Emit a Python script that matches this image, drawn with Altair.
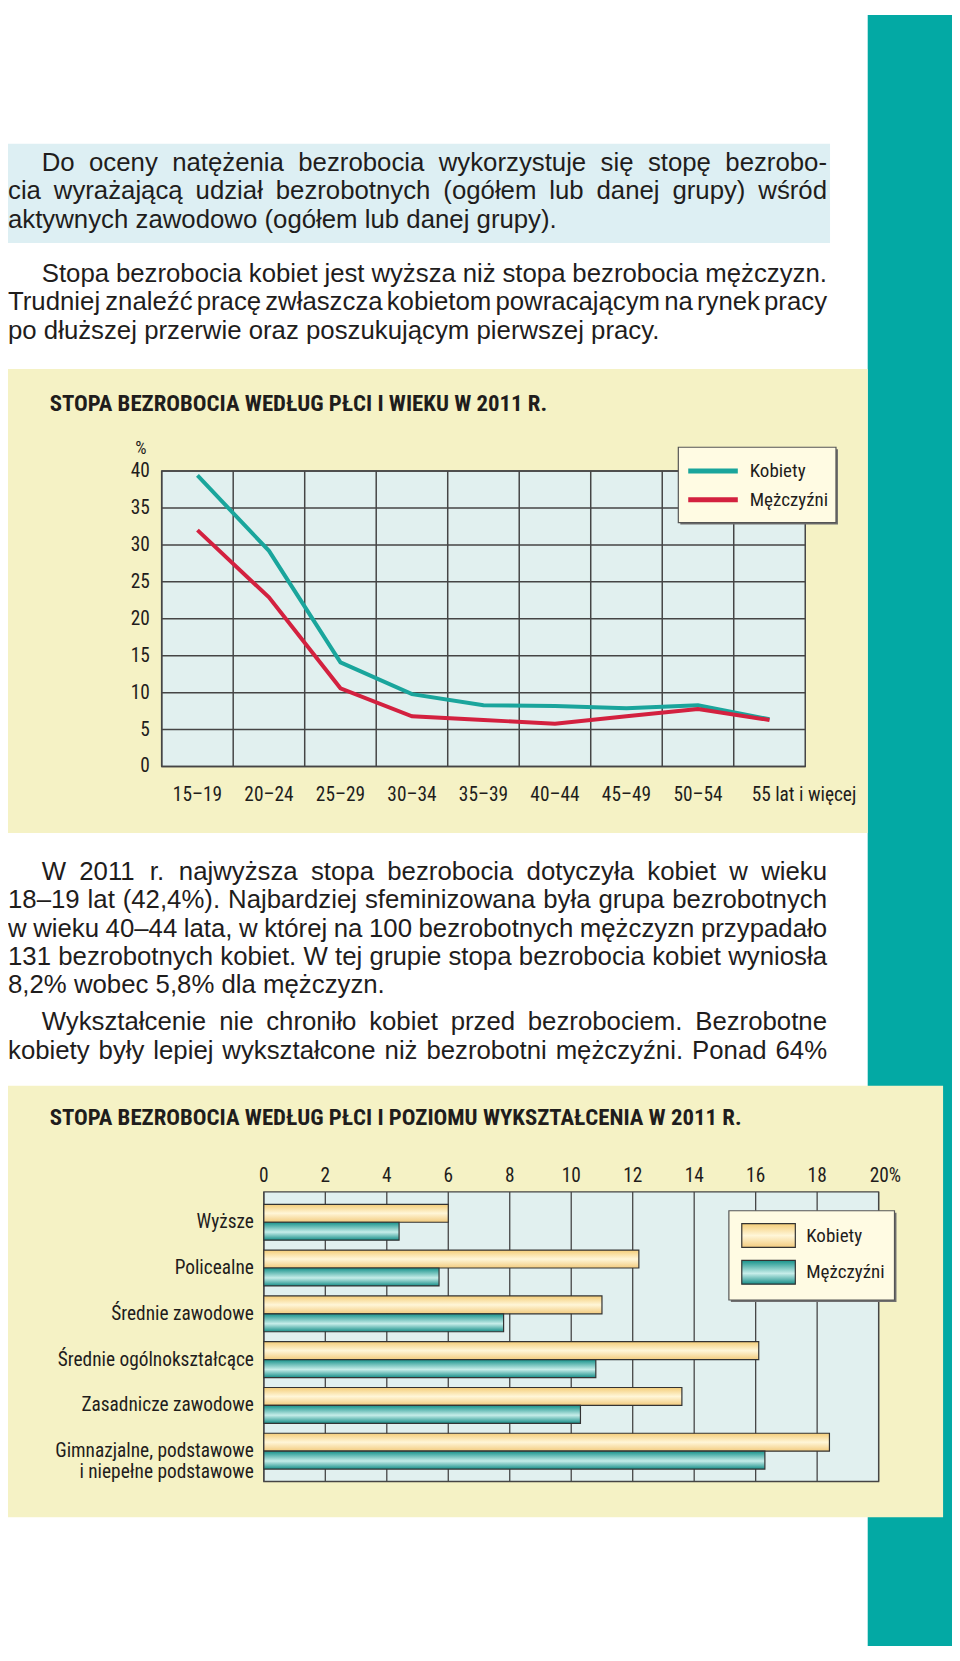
import altair as alt
import pandas as pd

# ------------------------------------------------------------------ data
ages = ["15–19", "20–24", "25–29", "30–34", "35–39", "40–44", "45–49", "50–54", "55 lat i więcej"]
women_by_age = [39.4, 29.2, 14.1, 9.8, 8.3, 8.2, 7.9, 8.3, 6.4]
men_by_age = [32.0, 22.9, 10.6, 6.8, 6.3, 5.8, 6.8, 7.8, 6.3]
series = ["Kobiety", "Mężczyźni"]
age_ticks = [0, 5, 10, 15, 20, 25, 30, 35, 40]

education = ["Wyższe", "Policealne", "Średnie zawodowe", "Średnie ogólnokształcące",
             "Zasadnicze zawodowe", "Gimnazjalne, podstawowe i niepełne podstawowe"]
education_labels = ["Wyższe", "Policealne", "Średnie zawodowe", "Średnie ogólnokształcące",
                    "Zasadnicze zawodowe", "Gimnazjalne, podstawowe\ni niepełne podstawowe"]
women_by_edu = [6.0, 12.2, 11.0, 16.1, 13.6, 18.4]
men_by_edu = [4.4, 5.7, 7.8, 10.8, 10.3, 16.3]
edu_ticks = [0, 2, 4, 6, 8, 10, 12, 14, 16, 18, 20]
edu_tick_labels = ["0", "2", "4", "6", "8", "10", "12", "14", "16", "18", "20%"]

title_age = "STOPA BEZROBOCIA WEDŁUG PŁCI I WIEKU W 2011 R."
title_edu = "STOPA BEZROBOCIA WEDŁUG PŁCI I POZIOMU WYKSZTAŁCENIA W 2011 R."

para_1 = [
    "Do oceny natężenia bezrobocia wykorzystuje się stopę bezrobo-",
    "cia wyrażającą udział bezrobotnych (ogółem lub danej grupy) wśród",
    "aktywnych zawodowo (ogółem lub danej grupy).",
]
para_2 = [
    "Stopa bezrobocia kobiet jest wyższa niż stopa bezrobocia mężczyzn.",
    "Trudniej znaleźć pracę zwłaszcza kobietom powracającym na rynek pracy",
    "po dłuższej przerwie oraz poszukującym pierwszej pracy.",
]
para_3 = [
    "W 2011 r. najwyższa stopa bezrobocia dotyczyła kobiet w wieku",
    "18–19 lat (42,4%). Najbardziej sfeminizowana była grupa bezrobotnych",
    "w wieku 40–44 lata, w której na 100 bezrobotnych mężczyzn przypadało",
    "131 bezrobotnych kobiet. W tej grupie stopa bezrobocia kobiet wyniosła",
    "8,2% wobec 5,8% dla mężczyzn.",
]
para_4 = [
    "Wykształcenie nie chroniło kobiet przed bezrobociem. Bezrobotne",
    "kobiety były lepiej wykształcone niż bezrobotni mężczyźni. Ponad 64%",
]

# ------------------------------------------------------------------ style
W, H = 952, 1645
BODY_FONT = "Liberation Sans, Arial, Helvetica, sans-serif"
COND_FONT = "Roboto Condensed, Noto Sans Condensed, DejaVu Sans Condensed, sans-serif"
TXT = "#1f1d1c"
TEAL_STRIP = "#03a9a4"
TEXT_BG = "#ddeff3"
PANEL = "#f5f2c5"
PLOT_BG = "#e1f0ef"
GRID = "#454545"
LEG_BG = "#fffbe3"
LINE_COLORS = alt.Scale(domain=series, range=["#1aa59c", "#d3213f"])
BAR_STROKE = "#333333"
GRAD_K = {"gradient": "linear", "x1": 0, "y1": 0, "x2": 0, "y2": 1,
          "stops": [{"offset": 0, "color": "#f4cd78"}, {"offset": 0.5, "color": "#fff6d8"},
                    {"offset": 1, "color": "#f2cb7e"}]}
GRAD_M = {"gradient": "linear", "x1": 0, "y1": 0, "x2": 0, "y2": 1,
          "stops": [{"offset": 0, "color": "#17928b"}, {"offset": 0.55, "color": "#c6ede9"},
                    {"offset": 1, "color": "#168e88"}]}
LABEL_SIZE = 19.5
LEGEND_SIZE = 19.2
TITLE_SIZE = 23

ONE = pd.DataFrame({"k": [0]})


def box(x1, x2, y1, y2, **style):
    return alt.Chart(ONE).mark_rect(**style).encode(
        x=alt.value(x1), x2=alt.value(x2), y=alt.value(y1), y2=alt.value(y2))


# ------------------------------------------------------------------ justified body text
_ARIAL = {}
for chars, w in [("ijlł", 222), ("ft .,I", 278), ("r()-", 333), ("ckszvxyćśźżJ", 500),
                 ("abdeghnopquąęńó0123456789–LŁ", 556), ("TFZŹŻ", 611), ("ABEKPSVXYŚĄĘ", 667),
                 ("wCDHNRUĆŃ", 722), ("GOQÓ", 778), ("mM", 833), ("%", 889), ("W", 944)]:
    for ch in chars:
        _ARIAL[ch] = w

BODY_SIZE = 26
LINE_H = 28.7
TEXT_LEFT, TEXT_INDENT, TEXT_RIGHT = 0, 34, 826


def measure(s):
    return sum(_ARIAL.get(ch, 556) for ch in s) * BODY_SIZE / 1000.0


def paragraph(lines, first_baseline, justify_last=False):
    rows = []
    for i, line in enumerate(lines):
        left = TEXT_INDENT if i == 0 else TEXT_LEFT
        words = line.split(" ")
        widths = [measure(w) for w in words]
        is_last = i == len(lines) - 1 and not justify_last
        if is_last or len(words) < 2:
            gap = measure(" ")
        else:
            gap = (TEXT_RIGHT - left - sum(widths)) / (len(words) - 1)
        x = left
        for wd, ww in zip(words, widths):
            rows.append({"w": wd, "x": x, "y": first_baseline + i * LINE_H})
            x += ww + gap
    return alt.Chart(pd.DataFrame(rows)).mark_text(
        align="left", baseline="alphabetic", font=BODY_FONT, fontSize=BODY_SIZE, color=TXT
    ).encode(x=alt.X("x:Q", scale=None, axis=None), y=alt.Y("y:Q", scale=None, axis=None), text="w:N")


# ------------------------------------------------------------------ line chart (age)
PX0, PX1, PY0, PY1 = 155, 804, 460, 758
X_AGE = alt.Scale(type="band", domain=ages, range=[PX0, PX1], paddingInner=0, paddingOuter=0)
Y_AGE = alt.Scale(domain=[0, 40], range=[PY1, PY0], nice=False, zero=False)

age_df = pd.DataFrame({
    "age": ages + ages,
    "series": [series[0]] * len(ages) + [series[1]] * len(ages),
    "rate": women_by_age + men_by_age,
})
age_lab_df = pd.DataFrame({"age": ages, "last": [0] * (len(ages) - 1) + [1]})

line_bg = box(PX0, PX1, PY0, PY1, fill=PLOT_BG)
line_hgrid = alt.Chart(pd.DataFrame({"v": age_ticks})).mark_rule(color=GRID, strokeWidth=1.5).encode(
    y=alt.Y("v:Q", scale=Y_AGE, axis=None), x=alt.value(PX0), x2=alt.value(PX1))
line_vgrid = alt.Chart(pd.DataFrame({"age": ages})).mark_rule(color=GRID, strokeWidth=1.5).encode(
    x=alt.X("age:N", scale=X_AGE, axis=None, bandPosition=0), y=alt.value(PY0), y2=alt.value(PY1))
line_border = box(PX0, PX1, PY0, PY1, filled=False, stroke=GRID, strokeWidth=1.5)
line_marks = alt.Chart(age_df).mark_line(strokeWidth=4).encode(
    x=alt.X("age:N", scale=X_AGE, axis=None),
    y=alt.Y("rate:Q", scale=Y_AGE, axis=None),
    color=alt.Color("series:N", scale=LINE_COLORS, legend=None),
)
line_ylabels = alt.Chart(pd.DataFrame({"v": age_ticks})).mark_text(
    align="right", baseline="middle", font=COND_FONT, fontSize=LABEL_SIZE, color=TXT
).encode(y=alt.Y("v:Q", scale=Y_AGE, axis=None), x=alt.value(143), text="v:Q")
line_unit = alt.Chart(ONE).mark_text(
    text="%", align="center", baseline="middle", font=COND_FONT, fontSize=18, color=TXT
).encode(x=alt.value(134), y=alt.value(438))
line_xlabels = alt.Chart(age_lab_df).transform_filter(alt.datum.last == 0).mark_text(
    align="center", baseline="middle", font=COND_FONT, fontSize=LABEL_SIZE, color=TXT
).encode(x=alt.X("age:N", scale=X_AGE, axis=None), y=alt.value(787), text="age:N")
line_xlabel_last = alt.Chart(age_lab_df).transform_filter(alt.datum.last == 1).mark_text(
    align="left", dx=-18, baseline="middle", font=COND_FONT, fontSize=LABEL_SIZE, color=TXT
).encode(x=alt.X("age:N", scale=X_AGE, axis=None), y=alt.value(787), text="age:N")
line_title = alt.Chart(ONE).mark_text(
    text=title_age, align="left", baseline="middle", font=COND_FONT, fontWeight="bold",
    fontSize=TITLE_SIZE, color=TXT
).encode(x=alt.value(42), y=alt.value(392))

line_chart = alt.layer(line_bg, line_hgrid, line_vgrid, line_border, line_marks,
                       line_ylabels, line_unit, line_xlabels, line_xlabel_last, line_title)

leg_df = pd.DataFrame({"series": series})
LEG_Y = alt.Scale(type="point", domain=series, range=[460, 489], padding=0)
line_legend = alt.layer(
    box(678, 837, 438, 514, fill="#707070"),
    box(676, 835, 436, 512, fill=LEG_BG, stroke="#555555", strokeWidth=1.2),
    alt.Chart(leg_df).mark_rule(strokeWidth=5).encode(
        x=alt.value(686), x2=alt.value(736),
        y=alt.Y("series:N", scale=LEG_Y, axis=None),
        color=alt.Color("series:N", scale=LINE_COLORS, legend=None)),
    alt.Chart(leg_df).mark_text(align="left", baseline="middle", font=COND_FONT, fontSize=LEGEND_SIZE,
                                color=TXT).encode(
        x=alt.value(748), y=alt.Y("series:N", scale=LEG_Y, axis=None), text="series:N"),
)

# ------------------------------------------------------------------ bar chart (education)
BX0, BX1, BY0, BY1 = 258, 878, 1187, 1479
X_EDU = alt.Scale(domain=[0, 20], range=[BX0, BX1], nice=False, zero=False)
Y_EDU = alt.Scale(type="band", domain=education, range=[BY0, BY1], paddingInner=0.217, paddingOuter=0.27)
OFF = alt.Scale(type="band", domain=series, paddingInner=0, paddingOuter=0)

edu_df = pd.DataFrame({
    "edu": education + education,
    "series": [series[0]] * len(education) + [series[1]] * len(education),
    "rate": women_by_edu + men_by_edu,
})
tick_df = pd.DataFrame({"v": edu_ticks, "t": edu_tick_labels})


def bars(name, grad):
    return alt.Chart(edu_df).transform_filter(alt.datum.series == name).mark_bar(
        fill=grad, stroke=BAR_STROKE, strokeWidth=1.2
    ).encode(
        x=alt.X("rate:Q", scale=X_EDU, axis=None),
        y=alt.Y("edu:N", scale=Y_EDU, axis=None),
        yOffset=alt.YOffset("series:N", scale=OFF),
    )


bar_bg = box(BX0, BX1, BY0, BY1, fill=PLOT_BG)
bar_grid = alt.Chart(tick_df).mark_rule(color=GRID, strokeWidth=1.3).encode(
    x=alt.X("v:Q", scale=X_EDU, axis=None), y=alt.value(BY0), y2=alt.value(BY1))
bar_border = box(BX0, BX1, BY0, BY1, filled=False, stroke=GRID, strokeWidth=1.3)
bar_ticklabels = alt.Chart(tick_df).transform_filter(alt.datum.v < 20).mark_text(
    align="center", baseline="middle", font=COND_FONT, fontSize=LABEL_SIZE, color=TXT
).encode(x=alt.X("v:Q", scale=X_EDU, axis=None), y=alt.value(1171), text="t:N")
bar_ticklast = alt.Chart(tick_df).transform_filter(alt.datum.v >= 20).mark_text(
    align="left", dx=-9, baseline="middle", font=COND_FONT, fontSize=LABEL_SIZE, color=TXT
).encode(x=alt.X("v:Q", scale=X_EDU, axis=None), y=alt.value(1171), text="t:N")
bar_catlabels = alt.Chart(pd.DataFrame({"edu": education, "label": education_labels})).mark_text(
    align="right", baseline="middle", lineBreak="\n", lineHeight=21, font=COND_FONT,
    fontSize=LABEL_SIZE, color=TXT
).encode(x=alt.value(248), y=alt.Y("edu:N", scale=Y_EDU, axis=None), text="label:N")
bar_title = alt.Chart(ONE).mark_text(
    text=title_edu, align="left", baseline="middle", font=COND_FONT, fontWeight="bold",
    fontSize=TITLE_SIZE, color=TXT
).encode(x=alt.value(42), y=alt.value(1112))

bar_chart = alt.layer(bar_bg, bar_grid, bar_border, bars(series[0], GRAD_K), bars(series[1], GRAD_M),
                      bar_ticklabels, bar_ticklast, bar_catlabels, bar_title)

BLEG_Y = alt.Scale(type="point", domain=series, range=[1231, 1268], padding=0)
bar_legend = alt.layer(
    box(729, 896, 1208, 1298, fill="#707070"),
    box(727, 894, 1206, 1296, fill=LEG_BG, stroke="#555555", strokeWidth=1.2),
    box(740, 794, 1219, 1243, fill=GRAD_K, stroke=BAR_STROKE, strokeWidth=1.2),
    box(740, 794, 1256, 1280, fill=GRAD_M, stroke=BAR_STROKE, strokeWidth=1.2),
    alt.Chart(leg_df).mark_text(align="left", baseline="middle", font=COND_FONT, fontSize=LEGEND_SIZE,
                                color=TXT).encode(
        x=alt.value(805), y=alt.Y("series:N", scale=BLEG_Y, axis=None), text="series:N"),
)

# ------------------------------------------------------------------ page
page = alt.layer(
    box(867, W, 0, H, fill=TEAL_STRIP),
    box(0, 829, 130, 230, fill=TEXT_BG),
    paragraph(para_1, 157),
    paragraph(para_2, 269),
    box(0, 867, 357, 825, fill=PANEL),
    line_chart,
    line_legend,
    paragraph(para_3, 872),
    paragraph(para_4, 1024, justify_last=True),
    box(0, 943, 1080, 1515, fill=PANEL),
    bar_chart,
    bar_legend,
).resolve_scale(
    x="independent", y="independent", color="independent"
).properties(
    width=W, height=H, padding=0, autosize="none", background="white"
).configure_view(strokeWidth=0)

page.save("out.html", embed_options={"renderer": "svg", "actions": False})
